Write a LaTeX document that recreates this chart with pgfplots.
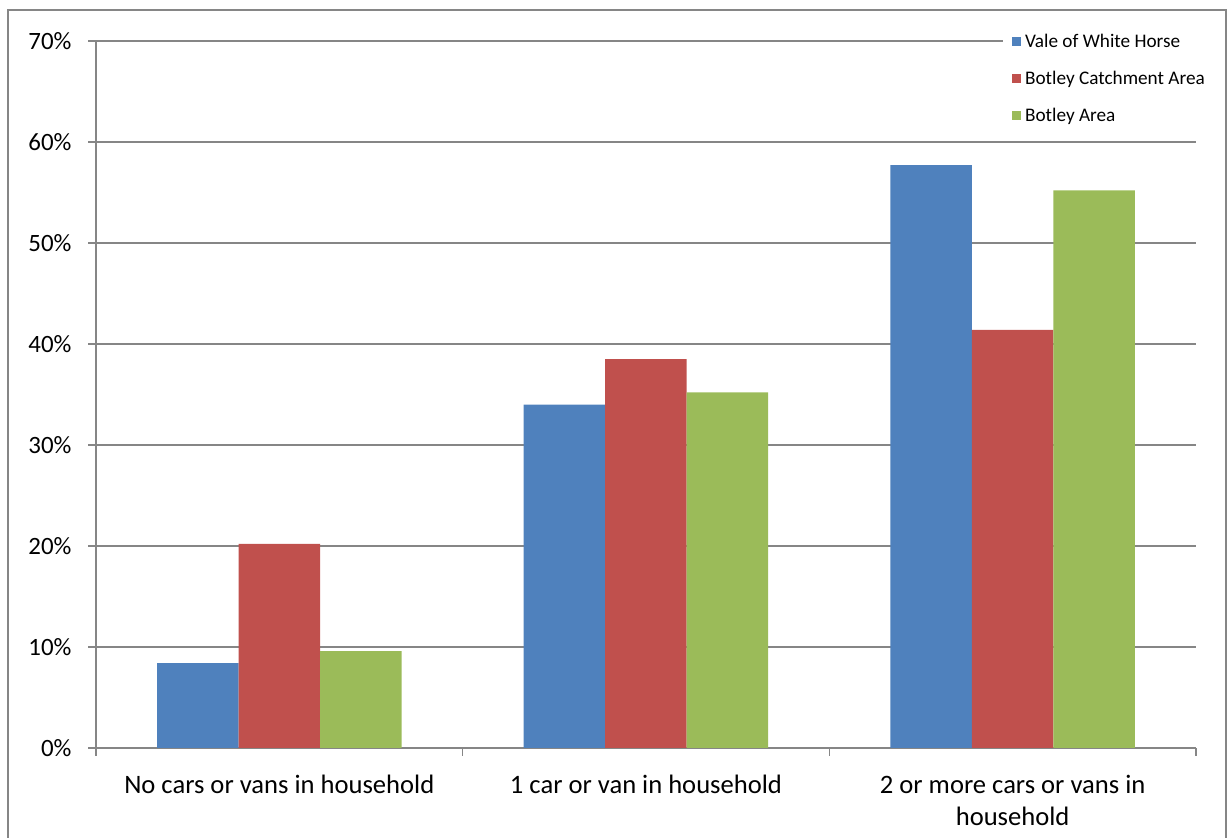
\documentclass[border=0pt]{standalone}
\usepackage{pgfplots}
\pgfplotsset{compat=1.18}
\usepackage{fontspec}
\setmainfont{Carlito}
\definecolor{cblue}{HTML}{4F81BD}
\definecolor{cred}{HTML}{C0504D}
\definecolor{cgreen}{HTML}{9BBB59}
\definecolor{gline}{RGB}{134,134,134}
\begin{document}
\begin{tikzpicture}[x=1bp,y=1bp]
\useasboundingbox (0,0) rectangle (1230,838);
\draw[gline,line width=1.5bp] (8,-5) -- (8,828) -- (1226,828) -- (1226,-5);
\begin{axis}[
  at={(96bp,90bp)}, anchor=south west,
  width=1100bp, height=707bp, scale only axis,
  xmin=-0.5, xmax=2.5, ymin=0, ymax=70,
  ybar=0pt, bar width=81.5bp,
  axis x line*=bottom, axis y line*=left,
  axis line style={gline, line width=1.2bp, -},
  ytick={0,10,...,70},
  yticklabel={\pgfmathprintnumber{\tick}\%},
  ymajorgrids, grid style={gline, line width=1.2bp},
  xtick={-0.5,0.5,1.5,2.5},
  x tick label as interval,
  xticklabels={No cars or vans in household,1 car or van in household,{2 or more cars or vans in\\household}},
  tick align=outside, major tick length=8bp,
  tick style={gline, line width=1.2bp},
  /pgf/number format/assume math mode=true,
  yticklabel style={font=\fontsize{25}{30}\selectfont, text=black, xshift=-13bp},
  xticklabel style={font=\fontsize{26.7}{32}\selectfont, text=black, align=center, yshift=-16bp},
  legend style={at={(0.8245,1.017)}, anchor=north west, fill=white, draw=none,
    font=\fontsize{19.3}{22}\selectfont, row sep=18bp, inner xsep=9bp, inner ysep=3bp,
    nodes={inner ysep=2bp, inner xsep=4bp}},
  legend cell align=left,
  legend image code/.code={\fill[#1] (0bp,-4.5bp) rectangle (9bp,4.5bp);},
  every axis plot/.append style={draw=none},
]
\addplot[fill=cblue] coordinates {(0,8.4) (1,34.0) (2,57.7)};
\addplot[fill=cred] coordinates {(0,20.2) (1,38.5) (2,41.4)};
\addplot[fill=cgreen] coordinates {(0,9.6) (1,35.2) (2,55.2)};
\legend{Vale of White Horse,Botley Catchment Area,Botley Area}
\end{axis}
\end{tikzpicture}
\end{document}
